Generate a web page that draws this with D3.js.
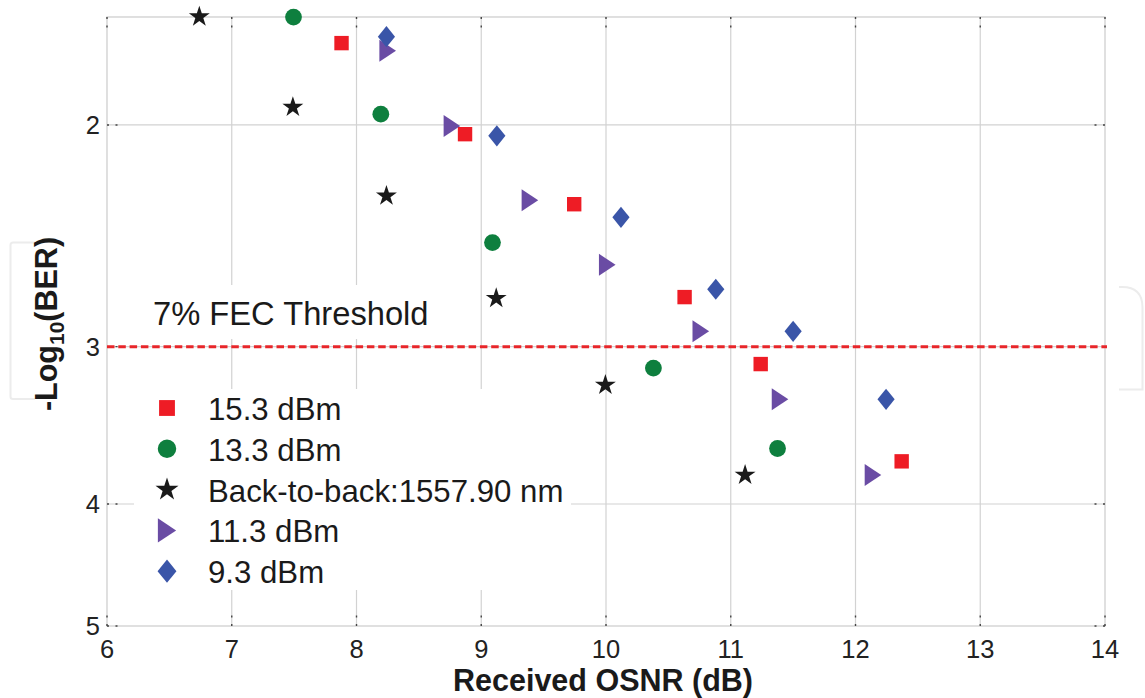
<!DOCTYPE html>
<html>
<head>
<meta charset="utf-8">
<script src="https://cdn.jsdelivr.net/npm/d3@7"></script>
<style>
  body { margin: 0; background: #fff; }
  svg { display: block; }
  text { font-family: "Liberation Sans", Arial, sans-serif; fill: #1a1a1a; }
</style>
</head>
<body>
<svg id="chart" width="1145" height="698"></svg>
<script>
// Axis ticks
const xTicks = [6, 7, 8, 9, 10, 11, 12, 13, 14];
const yTicks = [2, 3, 4, 5];
const fecThreshold = 3;
const fecLabel = "7% FEC Threshold";

// Series: received OSNR (dB) and -log10(BER)
const seriesNames = ["15.3 dBm", "13.3 dBm", "Back-to-back:1557.90 nm", "11.3 dBm", "9.3 dBm"];
const osnr153 = [7.88, 8.87, 9.745, 10.63, 11.24, 12.37];
const ber153  = [1.722, 2.034, 2.312, 2.74, 3.097, 3.70];
const osnr133 = [7.495, 8.195, 9.09, 10.38, 11.375];
const ber133  = [1.642, 1.961, 2.48, 3.12, 3.614];
const osnrB2B = [6.74, 7.49, 8.24, 9.12, 9.995, 11.115];
const berB2B  = [1.641, 1.936, 2.277, 2.746, 3.218, 3.794];
const osnr113 = [8.25, 8.765, 9.39, 10.01, 10.76, 11.395, 12.14];
const ber113  = [1.746, 2.004, 2.295, 2.583, 2.916, 3.303, 3.794];
const osnr93  = [8.24, 9.125, 10.12, 10.88, 11.50, 12.245];
const ber93   = [1.702, 2.04, 2.368, 2.701, 2.917, 3.303];

// Marker shapes (path generators, scale k)
const shapes = {
  square: k => { const h = 7.2 * k; return `M${-h},${-h}H${h}V${h}H${-h}Z`; },
  circle: k => d3.symbol(d3.symbolCircle, Math.PI * Math.pow(8.4 * k, 2))(),
  star: k => d3.symbol(d3.symbolStar, Math.pow(11 * k, 2) / 0.8908130915292852)(),
  triangle: k => { const w = 8.3 * k, h = 11 * k; return `M${-w},${-h}L${w},0L${-w},${h}Z`; },
  diamond: k => { const w = 8.6 * k, h = 10.6 * k; return `M0,${-h}L${w},0L0,${h}L${-w},0Z`; }
};

const series = [
  { name: seriesNames[0], x: osnr153, y: ber153, shape: "square",   color: "#ee1c25" },
  { name: seriesNames[1], x: osnr133, y: ber133, shape: "circle",   color: "#0e7f3e" },
  { name: seriesNames[2], x: osnrB2B, y: berB2B, shape: "star",     color: "#1a1a1a" },
  { name: seriesNames[3], x: osnr113, y: ber113, shape: "triangle", color: "#6a4ca4" },
  { name: seriesNames[4], x: osnr93,  y: ber93,  shape: "diamond",  color: "#3a55a8" }
];

const svg = d3.select("#chart");
const plotL = 107, plotR = 1105, plotT = 17, plotB = 626;

const x = d3.scaleLinear().domain([6, 14]).range([plotL, plotR]);
const y = d3.scaleLog().domain([1.6417, 5]).range([plotT, plotB]);

// faint bracket shapes at the page edges
svg.append("path")
  .attr("d", "M35,242.5H13Q10.5,242.5 10.5,245V396.5Q10.5,399 13,399H35")
  .attr("fill", "none").attr("stroke", "#ececec").attr("stroke-width", 2);
svg.append("path")
  .attr("d", "M1119,287H1122Q1142.5,287 1142.5,307.5V389.5H1119")
  .attr("fill", "none").attr("stroke", "#ececec").attr("stroke-width", 2);

// Grid
const grid = svg.append("g").attr("stroke", "#d2d2d2").attr("stroke-width", 1.2);
grid.selectAll("line.gx").data(xTicks.slice(1, -1)).join("line")
  .attr("x1", d => x(d)).attr("x2", d => x(d)).attr("y1", plotT).attr("y2", plotB);
grid.selectAll("line.gy").data(yTicks.slice(0, -1)).join("line")
  .attr("x1", plotL).attr("x2", plotR).attr("y1", d => y(d)).attr("y2", d => y(d));

// Frame
svg.append("rect")
  .attr("x", plotL).attr("y", plotT).attr("width", plotR - plotL).attr("height", plotB - plotT)
  .attr("fill", "none").attr("stroke", "#cfcfcf").attr("stroke-width", 1.3);

// Inward ticks (dark ends only)
const tickG = svg.append("g").attr("stroke", "#444").attr("stroke-width", 1.4)
  .attr("stroke-dasharray", "2,6.5,2");
xTicks.forEach(t => {
  tickG.append("line").attr("x1", x(t)).attr("x2", x(t)).attr("y1", plotT).attr("y2", plotT + 10.5);
  tickG.append("line").attr("x1", x(t)).attr("x2", x(t)).attr("y1", plotB).attr("y2", plotB - 10.5);
});
yTicks.forEach(t => {
  tickG.append("line").attr("y1", y(t)).attr("y2", y(t)).attr("x1", plotL).attr("x2", plotL + 10.5);
  tickG.append("line").attr("y1", y(t)).attr("y2", y(t)).attr("x1", plotR).attr("x2", plotR - 10.5);
});

// White panels behind the annotation text and the legend
svg.append("rect").attr("x", 140).attr("y", 285).attr("width", 305).attr("height", 54).attr("fill", "#fff");
svg.append("rect").attr("x", 134).attr("y", 389).attr("width", 437).attr("height", 201).attr("fill", "#fff");

// Tick labels
svg.append("g").selectAll("text").data(xTicks).join("text")
  .attr("x", d => x(d)).attr("y", 658)
  .attr("text-anchor", "middle").attr("font-size", 25.5).style("fill", "#222")
  .text(d => d);
svg.append("g").selectAll("text").data(yTicks).join("text")
  .attr("x", 100).attr("y", d => y(d) + 9)
  .attr("text-anchor", "end").attr("font-size", 25.5).style("fill", "#222")
  .text(d => d);

// Axis titles
svg.append("text")
  .attr("x", 603).attr("y", 691)
  .attr("text-anchor", "middle").attr("font-size", 30.5).attr("font-weight", "bold")
  .text("Received OSNR (dB)");

const yTitle = svg.append("text")
  .attr("transform", "translate(57,324) rotate(-90)")
  .attr("text-anchor", "middle").attr("font-size", 30.5).attr("font-weight", "bold");
yTitle.append("tspan").text("-Log");
yTitle.append("tspan").attr("font-size", 21).attr("dy", 7).text("10");
yTitle.append("tspan").attr("dy", -7).text("(BER)");

// FEC threshold
svg.append("line")
  .attr("x1", plotL).attr("x2", plotR + 2)
  .attr("y1", y(fecThreshold)).attr("y2", y(fecThreshold))
  .attr("stroke", "#e8262a").attr("stroke-width", 3).attr("stroke-dasharray", "7.5,3.8");
svg.append("text")
  .attr("x", 153).attr("y", 324.5).attr("font-size", 32.7)
  .text(fecLabel);

// Data markers
series.forEach(s => {
  svg.append("g").selectAll("path").data(s.x.map((v, i) => [v, s.y[i]])).join("path")
    .attr("transform", d => `translate(${x(d[0])},${y(d[1])})`)
    .attr("d", shapes[s.shape](1))
    .attr("fill", s.color);
});

// Legend
const legend = svg.append("g");
series.forEach((s, i) => {
  const ly = 408 + i * 40.8;
  legend.append("path")
    .attr("transform", `translate(167,${ly})`)
    .attr("d", shapes[s.shape](1.1))
    .attr("fill", s.color);
  legend.append("text")
    .attr("x", 208).attr("y", ly + 12)
    .attr("font-size", 31.2)
    .text(s.name);
});
</script>
</body>
</html>
